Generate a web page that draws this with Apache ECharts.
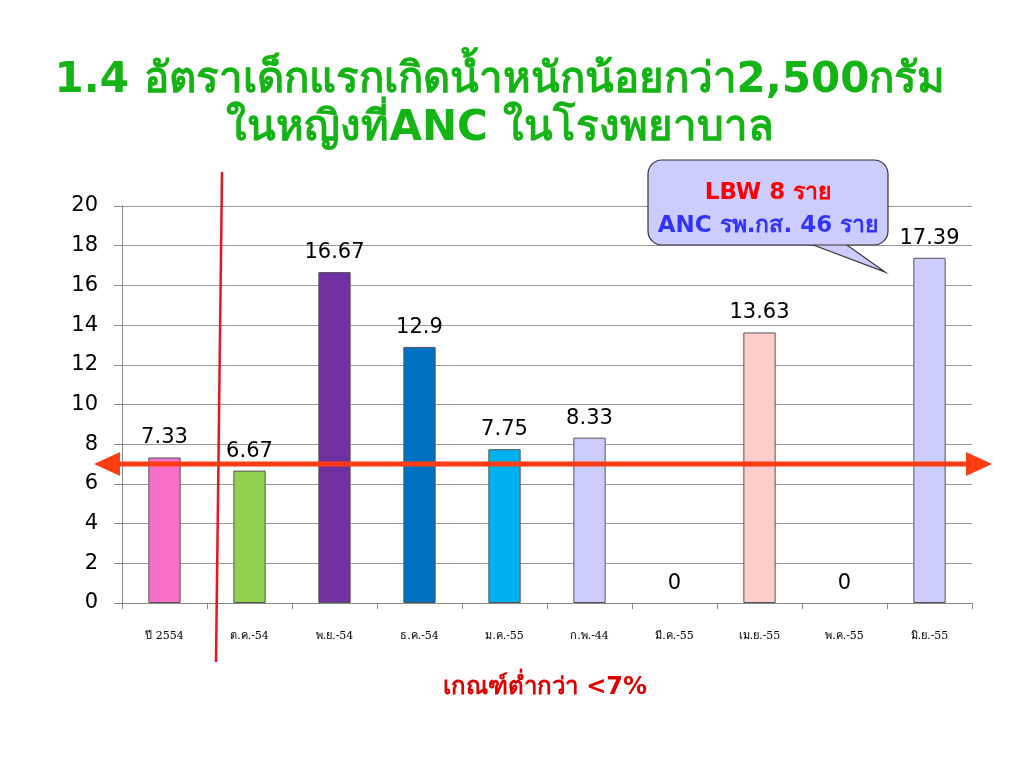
<!DOCTYPE html>
<html><head><meta charset="utf-8">
<script src="https://cdn.jsdelivr.net/npm/echarts@6/dist/echarts.min.js"></script>
<style>html,body{margin:0;padding:0;background:#fff}#c{width:1024px;height:768px}</style>
</head><body><div id="c"></div>
<script>
const categories = ['ปี 2554','ต.ค.-54','พ.ย.-54','ธ.ค.-54','ม.ค.-55','ก.พ.-44','มี.ค.-55','เม.ย.-55','พ.ค.-55','มิ.ย.-55'];
const values = [7.33, 6.67, 16.67, 12.9, 7.75, 8.33, 0, 13.63, 0, 17.39];
const barColors = ['#F86FC8','#92D050','#7030A0','#0070C0','#00B0F0','#CCCCFF','#CCCCFF','#FFCCCC','#CCCCFF','#CCCCFF'];
const yTicks = [0,2,4,6,8,10,12,14,16,18,20];
const threshold = 7;
const titleLines = ['1.4 อัตราเด็กแรกเกิดน้ำหนักน้อยกว่า2,500กรัม','ในหญิงที่ANC ในโรงพยาบาล'];
const calloutLines = ['LBW 8 ราย','ANC รพ.กส. 46 ราย'];
const footnote = 'เกณฑ์ต่ำกว่า <7%';

const chart = echarts.init(document.getElementById('c'));
const option = {
  animation: false,
  backgroundColor: '#fff',
  grid: {left: 122, right: 52, top: 206, bottom: 165},
  xAxis: {
    type: 'category', data: categories,
    axisLine: {lineStyle: {color: '#888'}},
    axisTick: {show: true, length: 6, lineStyle: {color: '#888'}},
    axisLabel: {color: '#000', fontFamily: 'DejaVu Serif, Liberation Serif, serif', fontSize: 11, margin: 28}
  },
  yAxis: {
    type: 'value', min: yTicks[0], max: yTicks[yTicks.length-1], interval: 2,
    axisLine: {show: true, lineStyle: {color: '#888'}},
    axisTick: {show: true, length: 8, lineStyle: {color: '#888'}},
    axisLabel: {color: '#000', fontFamily: 'DejaVu Sans, sans-serif', fontSize: 21, margin: 24},
    splitLine: {lineStyle: {color: '#999', width: 1}}
  },
  series: [{
    type: 'bar',
    data: values.map((v, i) => ({value: v, itemStyle: {color: barColors[i], borderWidth: v === 0 ? 0 : 1}})),
    barWidth: '38%',
    itemStyle: {borderColor: '#555', borderWidth: 1},
    label: {show: true, position: 'top', distance: 9, color: '#000', fontFamily: 'DejaVu Sans, sans-serif', fontSize: 21}
  }]
};
chart.setOption(option);

const yT = chart.convertToPixel({yAxisIndex: 0}, threshold);
chart.setOption({
  graphic: [
    {type: 'text', x: 500, y: 81, style: {text: titleLines[0], fill: '#14B414', font: 'bold 42px "DejaVu Sans", sans-serif', align: 'center', verticalAlign: 'middle'}},
    {type: 'text', x: 500, y: 129, style: {text: titleLines[1], fill: '#14B414', font: 'bold 42px "DejaVu Sans", sans-serif', align: 'center', verticalAlign: 'middle'}},
    // vertical red line
    {type: 'line', shape: {x1: 222, y1: 172, x2: 216, y2: 662}, style: {stroke: '#E8141E', lineWidth: 2.5}, z: 100},
    // horizontal double arrow at threshold
    {type: 'line', shape: {x1: 112, y1: yT, x2: 975, y2: yT}, style: {stroke: '#FF3C14', lineWidth: 5}, z: 101},
    {type: 'polygon', shape: {points: [[94, yT], [120, yT - 12], [120, yT + 12]]}, style: {fill: '#FF3C14'}, z: 101},
    {type: 'polygon', shape: {points: [[992, yT], [966, yT - 12], [966, yT + 12]]}, style: {fill: '#FF3C14'}, z: 101},
    // callout
    {type: 'polygon', shape: {points: [[800, 240], [885, 272], [840, 240]]}, style: {fill: '#CCCCFF', stroke: '#333', lineWidth: 1.2}, z: 110},
    {type: 'rect', shape: {x: 648, y: 160, width: 240, height: 85, r: 14}, style: {fill: '#CCCCFF', stroke: '#333', lineWidth: 1.2}, z: 111},
    {type: 'rect', shape: {x: 799, y: 238, width: 42, height: 6}, style: {fill: '#CCCCFF'}, z: 112},
    {type: 'text', x: 768, y: 193, style: {text: calloutLines[0], fill: '#FF0000', font: 'bold 23px "DejaVu Sans", sans-serif', align: 'center', verticalAlign: 'middle'}, z: 113},
    {type: 'text', x: 768, y: 226, style: {text: calloutLines[1], fill: '#3333FF', font: 'bold 23px "DejaVu Sans", sans-serif', align: 'center', verticalAlign: 'middle'}, z: 113},
    {type: 'text', x: 545, y: 688, style: {text: footnote, fill: '#E00000', font: 'bold 24px "DejaVu Sans", sans-serif', align: 'center', verticalAlign: 'middle'}}
  ]
});
</script></body></html>
